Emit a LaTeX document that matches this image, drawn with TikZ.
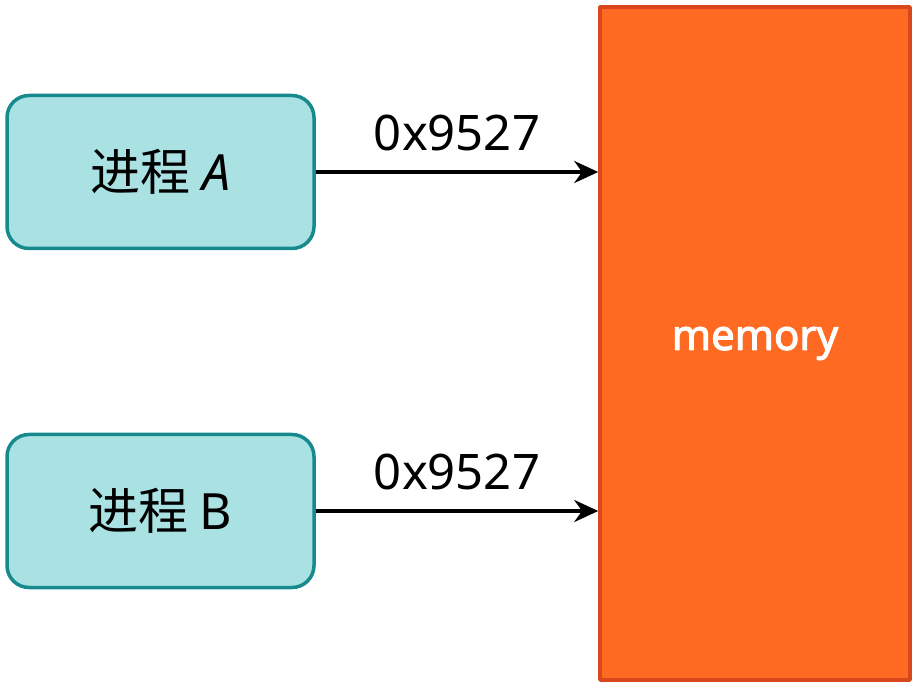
\documentclass[tikz,border=0pt]{standalone}
\usepackage{fontspec}
\setmainfont{Noto Sans}
\newfontfamily\cjk{Noto Sans CJK SC}
\newfontfamily\memfont[AutoFakeBold=2.5]{Noto Sans}
\usetikzlibrary{positioning,arrows.meta}
\definecolor{procfill}{HTML}{AAE2E4}
\definecolor{procline}{HTML}{178A8E}
\definecolor{memfill}{HTML}{FF6A22}
\definecolor{memline}{HTML}{D8481C}
\tikzset{
  proc/.style={draw=procline, fill=procfill, line width=3.5pt, rounded corners=22pt,
    minimum width=307pt, minimum height=153pt, font=\fontsize{50}{58}\selectfont},
  mem/.style={draw=memline, fill=memfill, line width=3.5pt,
    minimum width=310pt, minimum height=673pt, text=white,
    font=\fontsize{42}{50}\memfont\bfseries},
  addr/.style={font=\fontsize{49}{56}\selectfont, inner sep=0pt}
}
\begin{document}
\begin{tikzpicture}[x=1pt, y=-1pt, line join=round, >={Stealth[length=24pt,width=22pt]}]
  \useasboundingbox (0,0) rectangle (924,692);
  % processes and memory
  \node[proc] (procA) at (160.5,172) {\cjk 进程 \normalfont\itshape A};
  \node[proc] (procB) at (160.5,511) {\cjk 进程 \normalfont B};
  \node[mem] (mem) at (755,343.5) {memory};
  % mappings
  \draw[->, line width=3.5pt] (procA.east) -- (procA.east -| mem.west)
    node[addr, midway, above=19pt] {0x9527};
  \draw[->, line width=3.5pt] (procB.east) -- (procB.east -| mem.west)
    node[addr, midway, above=19pt] {0x9527};
\end{tikzpicture}
\end{document}
